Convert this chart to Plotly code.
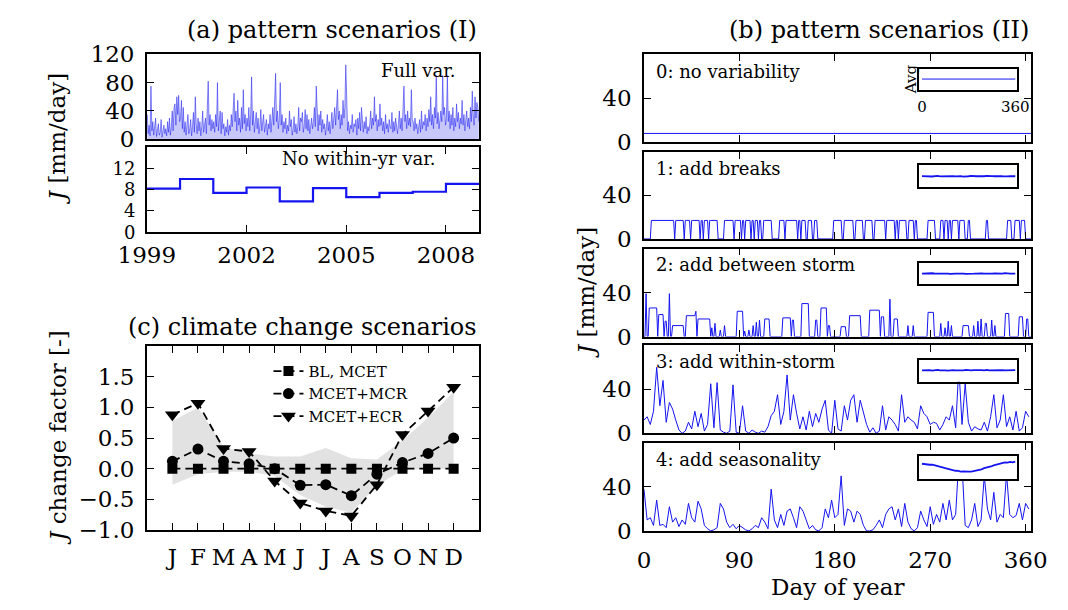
import plotly.graph_objects as go

W, H = 1068, 610
FONT = "DejaVu Serif"
BLUE = "#1414f0"

# ---------------- (a) pattern scenarios (I) ----------------
years = list(range(1999, 2009))
annual_mean = [8.2, 10.0, 7.4, 8.4, 5.8, 8.3, 6.6, 7.4, 7.6, 9.1]

# full-variability rainfall, 10-day samples (36 per year)
full_var_1999 = [35, 8, 20, 5, 75, 12, 25, 6, 18, 30, 4, 15, 22, 6, 10, 28, 3, 12,
                 20, 8, 15, 5, 25, 10, 30, 6, 18, 40, 12, 45, 50, 20, 60, 35, 62, 25]
full_var_2000 = [30, 55, 15, 45, 10, 25, 6, 20, 35, 8, 15, 28, 5, 18, 38, 10, 60, 22,
                 8, 30, 12, 25, 5, 18, 40, 10, 22, 30, 8, 45, 82, 20, 35, 12, 28, 15]
full_var_2001 = [25, 10, 35, 18, 80, 12, 30, 40, 8, 38, 15, 22, 5, 18, 10, 28, 6, 20,
                 12, 35, 18, 45, 65, 25, 40, 12, 55, 20, 30, 10, 45, 15, 70, 22, 35, 12]
full_var_2002 = [30, 18, 45, 12, 35, 88, 20, 40, 10, 25, 38, 15, 30, 8, 20, 42, 12, 25,
                 35, 10, 18, 28, 6, 22, 15, 35, 10, 30, 45, 20, 55, 93, 25, 40, 15, 30]
full_var_2003 = [80, 20, 35, 10, 25, 15, 30, 8, 20, 12, 40, 18, 28, 6, 15, 32, 10, 22,
                 8, 18, 45, 12, 30, 25, 38, 10, 20, 42, 15, 35, 12, 28, 8, 20, 30, 15]
full_var_2004 = [25, 45, 18, 75, 30, 12, 35, 20, 40, 10, 28, 15, 22, 6, 18, 35, 12, 25,
                 8, 20, 38, 15, 30, 45, 20, 52, 70, 28, 40, 15, 35, 20, 55, 30, 45, 105]
full_var_2005 = [30, 12, 25, 8, 20, 15, 35, 10, 22, 18, 28, 6, 30, 15, 38, 12, 45, 20,
                 10, 25, 15, 32, 8, 18, 12, 22, 40, 15, 30, 20, 60, 25, 35, 12, 28, 18]
full_var_2006 = [50, 20, 30, 12, 25, 8, 35, 15, 22, 10, 28, 18, 15, 38, 10, 25, 12, 30,
                 20, 8, 22, 40, 15, 30, 12, 45, 75, 25, 35, 15, 40, 20, 30, 18, 70, 28]
full_var_2007 = [25, 12, 30, 15, 22, 8, 18, 28, 10, 40, 15, 25, 20, 35, 12, 30, 18, 42,
                 25, 60, 20, 35, 15, 45, 30, 90, 22, 38, 15, 30, 40, 25, 90, 35, 45, 20]
full_var_2008 = [30, 90, 25, 40, 15, 35, 20, 45, 12, 30, 18, 50, 25, 38, 15, 30, 22, 55,
                 20, 35, 12, 28, 40, 18, 30, 15, 45, 25, 68, 35, 20, 60, 30, 52, 45, 25]

# ---------------- (c) climate change scenarios ----------------
months = ["J", "F", "M", "A", "M", "J", "J", "A", "S", "O", "N", "D"]
cf_bl_mcet = [0.0, 0.0, 0.0, 0.0, 0.0, 0.0, 0.0, 0.0, 0.0, 0.0, 0.0, 0.0]
cf_mcet_mcr = [0.12, 0.32, 0.12, 0.08, 0.0, -0.27, -0.26, -0.44, -0.09, 0.10, 0.25, 0.50]
cf_mcet_ecr = [0.88, 1.07, 0.33, 0.28, -0.20, -0.56, -0.69, -0.77, -0.26, 0.56, 0.94, 1.33]
band_upper = [0.78, 1.00, 0.36, 0.25, 0.20, 0.20, 0.34, 0.17, 0.15, 0.46, 0.83, 1.25]
band_lower = [-0.26, -0.09, -0.05, -0.05, -0.12, -0.43, -0.62, -0.72, -0.27, -0.02, 0.0, 0.0]

# ---------------- (b) pattern scenarios (II) ----------------
no_var_level = 8.0
break_height = 17.0
# storm periods (start day, end day) for "add breaks"
break_storms = [(7, 10), (11, 15), (16, 18), (19, 21), (22, 24), (25, 28), (30, 32), (33, 35),
                (36, 37), (39, 41), (42, 43), (45, 47), (48, 50), (51, 52), (54, 55), (57, 60),
                (62, 63), (64, 66), (67, 69), (76, 84), (86, 89), (90, 91), (93, 94), (96, 98),
                (99, 100), (102, 103), (105, 107), (109, 110), (113, 116), (117, 120),
                (128, 132), (134, 140), (141, 144), (146, 147), (149, 152), (155, 158),
                (161, 163), (179, 186), (189, 194), (195, 197), (200, 203), (204, 206),
                (209, 211), (212, 215), (218, 227), (229, 232), (233, 236), (238, 239),
                (241, 244), (245, 247), (250, 252), (253, 254), (256, 257), (268, 271),
                (272, 274), (280, 282), (284, 286), (288, 289), (291, 293), (294, 296),
                (298, 300), (301, 302), (306, 307), (323, 324), (343, 346), (350, 354),
                (356, 359)]
# storms with their own intensity (start day, end day, mm/day) for "add between storm"
between_storms = [(2, 2, 39), (5, 12, 26), (14, 18, 20), (20, 21, 14), (24, 24, 39),
                  (27, 37, 10), (40, 48, 19), (49, 49, 23), (51, 62, 16), (64, 64, 8),
                  (67, 67, 12), (72, 72, 6), (76, 76, 10), (88, 93, 23), (95, 95, 5),
                  (99, 99, 6), (103, 103, 10), (106, 106, 13), (109, 109, 15),
                  (114, 118, 16), (131, 138, 17), (140, 141, 15), (149, 155, 30),
                  (162, 163, 15), (167, 172, 26), (174, 175, 10), (186, 190, 9),
                  (194, 204, 19), (213, 222, 24), (224, 226, 18), (232, 232, 34),
                  (236, 239, 16), (249, 249, 10), (254, 254, 10), (268, 273, 22),
                  (280, 280, 12), (284, 284, 8), (287, 287, 14), (290, 290, 10),
                  (301, 306, 10), (311, 311, 10), (315, 315, 14), (318, 318, 16),
                  (322, 323, 12), (328, 328, 15), (331, 331, 10), (341, 344, 21),
                  (354, 357, 18), (361, 362, 16)]
# 3-day samples (days 0, 3, ..., 363)
within_storm = [12, 15, 8, 20, 60, 25, 48, 10, 28, 22, 12, 3, 0, 2, 10, 4, 20, 6, 18, 2,
                8, 45, 5, 46, 3, 1, 0, 2, 44, 1, 0, 25, 2, 0, 3, 1, 0, 2, 1, 6,
                16, 20, 35, 8, 20, 53, 12, 35, 18, 4, 15, 3, 20, 6, 18, 10, 22, 30, 3, 0,
                30, 4, 2, 25, 12, 30, 35, 10, 30, 20, 8, 1, 5, 0, 2, 25, 3, 15, 12, 8,
                2, 35, 10, 15, 12, 10, 4, 25, 18, 15, 8, 10, 9, 3, 8, 15, 12, 25, 5, 60,
                8, 45, 10, 2, 6, 4, 3, 10, 2, 15, 35, 5, 12, 35, 6, 15, 3, 20, 2, 5,
                20, 15]
seasonal = [38, 10, 12, 5, 28, 5, 6, 3, 22, 8, 12, 4, 10, 6, 25, 12, 8, 27, 20, 5,
            2, 0, 1, 3, 25, 20, 8, 3, 6, 2, 5, 3, 1, 0, 2, 5, 3, 12, 8, 2,
            38, 10, 3, 15, 5, 18, 20, 12, 3, 22, 18, 10, 2, 5, 1, 0, 3, 20, 12, 28,
            12, 15, 50, 5, 20, 18, 8, 18, 15, 5, 0, 0, 1, 5, 10, 3, 15, 20, 22, 10,
            20, 4, 25, 8, 2, 0, 3, 18, 10, 4, 22, 6, 15, 8, 25, 10, 28, 10, 15, 65,
            60, 5, 3, 10, 25, 4, 10, 50, 20, 10, 35, 8, 15, 12, 52, 15, 12, 14, 25, 10,
            25, 20]

# annual-average daily pattern shown in the insets (10-day samples, days 0..360)
avg_breaks = [8.1, 7.9, 8.2, 8.0, 7.8, 8.1, 8.3, 7.9, 8.0, 8.2, 7.8, 8.0, 8.1, 7.9, 8.2, 8.0,
              7.7, 8.1, 8.0, 8.2, 7.9, 8.0, 8.1, 7.8, 8.0, 8.2, 7.9, 8.1, 8.0, 7.8, 8.1, 8.0,
              8.2, 7.9, 8.0, 8.1, 8.0]
avg_between = [7.8, 8.0, 7.7, 7.9, 8.1, 7.8, 7.9, 7.6, 7.9, 8.0, 7.8, 7.7, 8.0, 7.9, 7.8, 8.1,
               7.9, 7.7, 7.9, 8.0, 7.8, 7.9, 7.7, 8.0, 7.9, 7.8, 7.6, 7.9, 8.0, 7.8, 7.7, 7.9,
               8.2, 7.8, 7.9, 7.8, 7.9]
avg_within = [8.2, 8.4, 8.1, 8.3, 8.0, 8.2, 8.5, 8.1, 8.3, 8.2, 8.0, 8.3, 8.4, 8.2, 8.1, 8.3,
              8.2, 8.5, 8.1, 8.2, 8.4, 8.2, 8.0, 8.3, 8.2, 8.5, 8.1, 8.2, 8.4, 8.0, 8.2, 8.3,
              8.1, 8.2, 8.4, 8.2, 8.3]
avg_seasonal = [10.8, 10.5, 10.6, 10.1, 10.2, 9.6, 9.3, 8.7, 8.3, 7.7, 7.3, 6.7, 6.5, 5.9,
                5.8, 5.3, 5.4, 5.1, 5.3, 5.3, 5.7, 5.9, 6.5, 6.9, 7.7, 8.0, 8.7, 9.1, 9.9,
                10.4, 11.1, 11.2, 11.7, 11.6, 12.1, 11.8, 12.3]

# ---------------- series assembly ----------------
full_var = (full_var_1999 + full_var_2000 + full_var_2001 + full_var_2002 + full_var_2003 +
            full_var_2004 + full_var_2005 + full_var_2006 + full_var_2007 + full_var_2008)
full_var_x = [1999 + (i + 0.5) / 36 for i in range(len(full_var))]

days = list(range(366))
breaks_series = [0.0] * 366
for s, e in break_storms:
    for d in range(s, e + 1):
        breaks_series[d] = break_height
between_series = [0.0] * 366
for s, e, v in between_storms:
    for d in range(s, e + 1):
        between_series[d] = v
days3 = list(range(0, 366, 3))
avg_days = list(range(0, 361, 10))


def px(x):
    return x / W


def py(y):
    return 1 - y / H


def dom_x(a, b):
    return [px(a), px(b)]


def dom_y(top, bottom):
    return [py(bottom), py(top)]


TICK_SIZE = 23


def axis(domain, anchor, **kw):
    d = dict(domain=domain, anchor=anchor, showline=True, linecolor="black", linewidth=1.6,
             mirror="allticks", ticks="inside", ticklen=7, tickwidth=1, tickcolor="black",
             showgrid=False, zeroline=False,
             tickfont=dict(family=FONT, size=TICK_SIZE, color="black"))
    d.update(kw)
    return d


fig = go.Figure()

# (a) top: full variability
fig.add_trace(go.Scatter(x=full_var_x, y=full_var, mode="lines", fill="tozeroy",
                         fillcolor="rgba(30,30,235,0.25)",
                         line=dict(color="rgba(20,20,240,0.7)", width=0.7),
                         xaxis="x", yaxis="y", showlegend=False))
# (a) bottom: annual means
fig.add_trace(go.Scatter(x=years + [2009], y=annual_mean + [annual_mean[-1]], mode="lines",
                         line=dict(color=BLUE, width=2.2, shape="hv"),
                         xaxis="x2", yaxis="y2", showlegend=False))

# (c) band + scenarios
mx = list(range(1, 13))
fig.add_trace(go.Scatter(x=mx + mx[::-1], y=band_upper + band_lower[::-1], fill="toself",
                         fillcolor="#e2e2e2", line=dict(width=0), mode="lines",
                         xaxis="x3", yaxis="y3", showlegend=False, hoverinfo="skip"))
dash = "8px,5px"
fig.add_trace(go.Scatter(x=mx, y=cf_bl_mcet, mode="lines+markers", name="BL, MCET",
                         line=dict(color="black", width=1.8, dash=dash),
                         marker=dict(symbol="square", size=10, color="black"),
                         xaxis="x3", yaxis="y3"))
fig.add_trace(go.Scatter(x=mx, y=cf_mcet_mcr, mode="lines+markers", name="MCET+MCR",
                         line=dict(color="black", width=1.8, dash=dash),
                         marker=dict(symbol="circle", size=11, color="black"),
                         xaxis="x3", yaxis="y3"))
fig.add_trace(go.Scatter(x=mx, y=cf_mcet_ecr, mode="lines+markers", name="MCET+ECR",
                         line=dict(color="black", width=1.8, dash=dash),
                         marker=dict(symbol="triangle-down", size=13, color="black"),
                         xaxis="x3", yaxis="y3"))

# (b) main panels
fig.add_trace(go.Scatter(x=[0, 365], y=[no_var_level, no_var_level], mode="lines",
                         line=dict(color=BLUE, width=1), xaxis="x4", yaxis="y4",
                         showlegend=False))
fig.add_trace(go.Scatter(x=days, y=breaks_series, mode="lines", line=dict(color=BLUE, width=1),
                         xaxis="x5", yaxis="y5", showlegend=False))
fig.add_trace(go.Scatter(x=days, y=between_series, mode="lines", line=dict(color=BLUE, width=1),
                         xaxis="x6", yaxis="y6", showlegend=False))
fig.add_trace(go.Scatter(x=days3, y=within_storm, mode="lines", line=dict(color=BLUE, width=1),
                         xaxis="x7", yaxis="y7", showlegend=False))
fig.add_trace(go.Scatter(x=days3, y=seasonal, mode="lines", line=dict(color=BLUE, width=1),
                         xaxis="x8", yaxis="y8", showlegend=False))

# insets: white backdrop then the averaged pattern
inset_series = [([0, 360], [no_var_level, no_var_level], 1.0),
                (avg_days, avg_breaks, 1.8),
                (avg_days, avg_between, 1.8),
                (avg_days, avg_within, 1.8),
                (avg_days, avg_seasonal, 1.8)]
for k, (ix, iy, lw) in enumerate(inset_series):
    xa, ya = f"x{9 + k}", f"y{9 + k}"
    fig.add_trace(go.Scatter(x=[-12, 365, 365, -12, -12], y=[0, 0, 16, 16, 0], fill="toself",
                             fillcolor="white", line=dict(width=0), mode="lines",
                             xaxis=xa, yaxis=ya, showlegend=False, hoverinfo="skip"))
    fig.add_trace(go.Scatter(x=ix, y=iy, mode="lines", line=dict(color=BLUE, width=lw),
                             xaxis=xa, yaxis=ya, showlegend=False))

layout = dict(
    width=W, height=H, margin=dict(l=0, r=0, t=0, b=0),
    paper_bgcolor="white", plot_bgcolor="white",
    font=dict(family=FONT, color="black"),
    legend=dict(x=px(250), y=py(357), xanchor="left", yanchor="top",
                bgcolor="rgba(0,0,0,0)", font=dict(family=FONT, size=15, color="black")),
)

# (a)
layout["xaxis"] = axis(dom_x(123, 470), "y", range=[1999, 2009], ticks="", showticklabels=False)
layout["yaxis"] = axis(dom_y(43, 132), "x", range=[0, 120], tickvals=[0, 40, 80, 120],
                       ticklabelstandoff=6)
layout["xaxis2"] = axis(dom_x(123, 470), "y2", range=[1999, 2009],
                        tickvals=[1999, 2002, 2005, 2008], ticklabelstandoff=1)
layout["yaxis2"] = axis(dom_y(140, 229), "x2", range=[0, 16], tickvals=[0, 4, 8, 12],
                        ticklabelstandoff=6,
                        tickfont=dict(family=FONT, size=18, color="black"))
# (c)
layout["xaxis3"] = axis(dom_x(123, 470), "y3", range=[0, 13], tickvals=mx, ticktext=months,
                        ticklabelstandoff=6)
layout["yaxis3"] = axis(dom_y(348, 540), "x3", range=[-1, 2],
                        tickvals=[-1.0, -0.5, 0.0, 0.5, 1.0, 1.5], tickformat=".1f",
                        ticklabelstandoff=6)
# (b)
b_rows = [(43, 135), (145, 236), (246, 338), (347, 439), (449, 541)]
for k, (t, b) in enumerate(b_rows):
    n = 4 + k
    last = k == len(b_rows) - 1
    layout[f"xaxis{n}"] = axis(dom_x(642, 1046), f"y{n}", range=[0, 365],
                               tickvals=[0, 90, 180, 270, 360], showticklabels=last,
                               ticklabelstandoff=8)
    layout[f"yaxis{n}"] = axis(dom_y(t, b), f"x{n}", range=[0, 80], tickvals=[0, 40],
                               ticklabelstandoff=6)
inset_rows = [(58, 80), (159, 182), (261, 283), (362, 385), (463, 487)]
for k, (t, b) in enumerate(inset_rows):
    n = 9 + k
    layout[f"xaxis{n}"] = axis(dom_x(929, 1031), f"y{n}", range=[-12, 365], ticks="",
                               linewidth=2, mirror=True, tickvals=[0, 360],
                               showticklabels=(k == 0), ticklabelstandoff=2,
                               tickfont=dict(family=FONT, size=15, color="black"))
    layout[f"yaxis{n}"] = axis(dom_y(t, b), f"x{n}", range=[0, 16], ticks="", linewidth=2,
                               mirror=True, showticklabels=False)


def note(x, y, text, size, xanchor="left", angle=0):
    return dict(x=px(x), y=py(y), xref="paper", yref="paper", text=text, showarrow=False,
                xanchor=xanchor, yanchor="middle", textangle=angle,
                font=dict(family=FONT, size=size, color="black"))


layout["annotations"] = [
    note(470, 18, "(a) pattern scenarios (I)", 24, "right"),
    note(1046, 18, "(b) pattern scenarios (II)", 24, "right"),
    note(470, 328, "(c) climate change scenarios", 24, "right"),
    note(448, 60, "Full var.", 18, "right"),
    note(262, 152, "No within-yr var.", 18, "left"),
    note(30, 131, "<i>J</i> [mm/day]", 23, "center", -90),
    note(30, 443, "<i>J</i> change factor [-]", 23, "center", -90),
    note(581, 292, "<i>J</i> [mm/day]", 23, "center", -90),
    note(844, 600, "Day of year", 23, "center"),
    note(653, 61, "0: no variability", 18),
    note(653, 162, "1: add breaks", 18),
    note(653, 263, "2: add between storm", 18),
    note(653, 364, "3: add within-storm", 18),
    note(653, 466, "4: add seasonality", 18),
    note(921, 69, "Avg", 15, "center", -90),
]

fig.update_layout(**layout)
fig.write_html("out.html")
